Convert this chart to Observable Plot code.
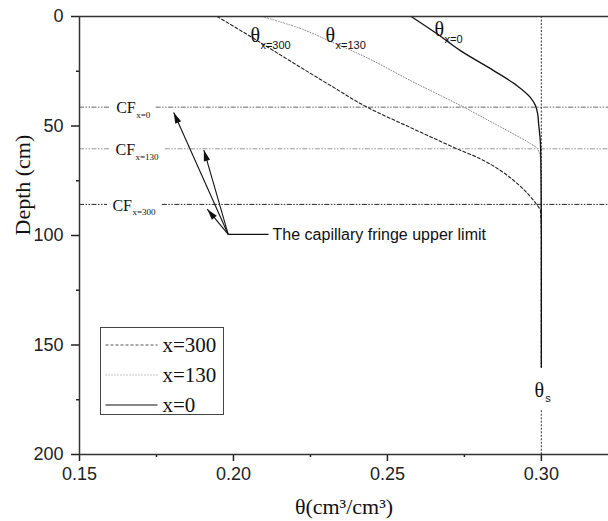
<!DOCTYPE html>
<html>
<head>
<meta charset="utf-8">
<script src="https://cdn.jsdelivr.net/npm/d3@7"></script>
<script src="https://cdn.jsdelivr.net/npm/@observablehq/plot@0.6"></script>
<style>
  html, body { margin: 0; padding: 0; background: #fff; }
  #chart { position: relative; width: 608px; height: 521px; }
</style>
</head>
<body>
<div id="chart"></div>
<script>
// ---------- data ----------
const seriesNames = ["x=300", "x=130", "x=0"];

const theta300 = [0.1947, 0.2055, 0.2191, 0.2315, 0.2434, 0.2575, 0.2726, 0.2802, 0.2867, 0.2922, 0.2964, 0.2987, 0.2997, 0.3000, 0.3000];
const depth300 = [0, 9.1, 20.9, 31.5, 41.4, 50.7, 60.4, 65.0, 70.3, 76.3, 82.2, 86.3, 88.6, 100, 160];

const theta130 = [0.2093, 0.2218, 0.2315, 0.2418, 0.2581, 0.2748, 0.2834, 0.2906, 0.2964, 0.2987, 0.2997, 0.3000, 0.3000];
const depth130 = [0, 5.5, 11.4, 17.8, 29.7, 41.4, 47.9, 53.4, 58.0, 60.3, 64.8, 100, 160];

const theta0 = [0.2577, 0.2661, 0.2737, 0.2845, 0.2921, 0.2964, 0.2981, 0.2988, 0.2991, 0.2997, 0.2999, 0.3000, 0.3000];
const depth0 = [0, 7.9, 15.6, 24.7, 31.6, 36.9, 40.7, 44.5, 49.0, 58.0, 73.5, 100, 160];

// capillary fringe upper limits
const cfNames = ["x=0", "x=130", "x=300"];
const cfDepth = [41.4, 60.4, 85.8];
const cfGapStart = [0.1601, 0.1601, 0.1591];
const cfGapEnd = [0.1749, 0.1779, 0.1769];
const cfLabelTheta = [0.1619, 0.1617, 0.1607];
const cfColors = ["#666", "#999", "#222"];

// curve labels
const curveLabelNames = ["x=300", "x=130", "x=0"];
const curveLabelTheta = [0.2055, 0.2299, 0.2653];
const curveLabelDepth = [8.7, 8.7, 6.0];

// saturated water content
const thetaS = 0.30;
const thetaSLabelDepth = 170.7;
const thetaSSeg1 = [0, 180];
const thetaSSeg2 = [161, 200];

// annotation arrows
const arrowOrigin = [0.1983, 99.5];
const arrowTipTheta = [0.1806, 0.1904, 0.1915];
const arrowTipDepth = [43.8, 61.0, 88.0];
const annotationText = "The capillary fringe upper limit";
const connectorEnd = 0.2114;
const annotationTheta = 0.2127;

// axes
const xDomain = [0.15, 0.3218];
const yDomain = [0, 200];
const xMajor = [0.15, 0.20, 0.25, 0.30];
const xMinor = [0.175, 0.225, 0.275];
const yMajor = [0, 50, 100, 150, 200];
const yMinor = [25, 75, 125, 175];

// ---------- build ----------
const W = 608, H = 521, ML = 79, MR = 0, MT = 16, MB = 67;
const sx = d3.scaleLinear(xDomain, [ML, W - MR]);
const sy = d3.scaleLinear(yDomain, [MT, H - MB]);

const rows = [];
[[theta300, depth300, "x=300"], [theta130, depth130, "x=130"], [theta0, depth0, "x=0"]].forEach(([t, d, s]) => {
  t.forEach((v, i) => rows.push({series: s, theta: v, depth: d[i]}));
});

const cf = cfNames.map((n, i) => ({name: n, depth: cfDepth[i], gs: cfGapStart[i], ge: cfGapEnd[i], lt: cfLabelTheta[i], color: cfColors[i]}));
const cfSegs = cf.flatMap(c => [
  {x1: xDomain[0], x2: c.gs, y: c.depth, color: c.color},
  {x1: c.ge, x2: xDomain[1], y: c.depth, color: c.color}
]);

const curveLabels = curveLabelNames.map((n, i) => ({name: n, theta: curveLabelTheta[i], depth: curveLabelDepth[i]}));

const arrows = arrowTipTheta.map((t, i) => {
  const dx = sx(t) - sx(arrowOrigin[0]);
  const dy = sy(arrowTipDepth[i]) - sy(arrowOrigin[1]);
  return {x1: arrowOrigin[0], y1: arrowOrigin[1], x2: t, y2: arrowTipDepth[i], angle: Math.atan2(dx, -dy) * 180 / Math.PI};
});

const headSymbol = {
  draw(ctx) { ctx.moveTo(0, 0); ctx.lineTo(-3.2, 11); ctx.lineTo(3.2, 11); ctx.closePath(); }
};

const serif = "Liberation Serif, Times New Roman, serif";
const sans = "Liberation Sans, Arial, sans-serif";
const dashDotDot = "5,1.5,1.5,1.5,1.5,1.5";

const plot = Plot.plot({
  width: W, height: H,
  marginLeft: ML, marginRight: MR, marginTop: MT, marginBottom: MB,
  style: {fontFamily: sans, fontSize: "18px", color: "#222", background: "#fff"},
  x: {domain: xDomain},
  y: {domain: yDomain, reverse: true},
  marks: [
    // capillary fringe lines
    Plot.ruleY(cfSegs, {y: "y", x1: "x1", x2: "x2", stroke: "color", strokeWidth: 1, strokeDasharray: dashDotDot}),
    // theta_s reference
    Plot.ruleX(thetaSSeg1.map((a, i) => ({x: thetaS, y1: a, y2: thetaSSeg2[i]})), {x: "x", y1: "y1", y2: "y2", stroke: "#555", strokeWidth: 1.2, strokeDasharray: "2,1.5"}),
    // curves
    Plot.line(rows.filter(d => d.series === "x=130"), {x: "theta", y: "depth", curve: "monotone-y", stroke: "#888", strokeWidth: 1, strokeDasharray: "1,1.8"}),
    Plot.line(rows.filter(d => d.series === "x=300"), {x: "theta", y: "depth", curve: "monotone-y", stroke: "#222", strokeWidth: 1.1, strokeDasharray: "3,2.2"}),
    Plot.line(rows.filter(d => d.series === "x=0"), {x: "theta", y: "depth", curve: "monotone-y", stroke: "#111", strokeWidth: 1.3}),
    // arrows
    Plot.link(arrows, {x1: "x1", y1: "y1", x2: "x2", y2: "y2", stroke: "#111", strokeWidth: 1.1}),
    Plot.dot(arrows, {x: "x2", y: "y2", symbol: headSymbol, rotate: "angle", fill: "#111", stroke: "none"}),
    Plot.link([{x1: arrowOrigin[0], x2: connectorEnd, y: arrowOrigin[1]}], {x1: "x1", x2: "x2", y1: "y", y2: "y", stroke: "#111", strokeWidth: 1.1}),
    Plot.text([annotationText], {x: annotationTheta, y: arrowOrigin[1], text: d => d, textAnchor: "start", lineAnchor: "middle", fontSize: 16, fontFamily: sans, fill: "#111"}),
    // CF labels
    Plot.text(cf, {x: "lt", y: "depth", text: () => "CF", textAnchor: "start", lineAnchor: "middle", fontSize: 16, fontFamily: serif, fill: "#111", dy: 1}),
    Plot.text(cf, {x: "lt", y: "depth", text: "name", textAnchor: "start", lineAnchor: "middle", fontSize: 9, fontFamily: serif, fill: "#111", dx: 20, dy: 8}),
    // curve labels
    Plot.text(curveLabels, {x: "theta", y: "depth", text: () => "θ", textAnchor: "start", lineAnchor: "middle", fontSize: 20, fontFamily: serif, fill: "#111"}),
    Plot.text(curveLabels, {x: "theta", y: "depth", text: "name", textAnchor: "start", lineAnchor: "middle", fontSize: 11, fontFamily: sans, fill: "#111", dx: 10, dy: 10}),
    Plot.text([thetaS], {x: thetaS, y: thetaSLabelDepth, text: () => "θ", textAnchor: "middle", lineAnchor: "middle", fontSize: 20, fontFamily: serif, fill: "#111", dx: -2}),
    Plot.text([thetaS], {x: thetaS, y: thetaSLabelDepth, text: () => "s", textAnchor: "start", lineAnchor: "middle", fontSize: 11, fontFamily: sans, fill: "#111", dx: 4, dy: 8}),
    // axes
    Plot.axisX(xMajor, {ticks: xMajor, tickSize: 7, tickPadding: 6, tickFormat: d3.format(".2f"), label: null, strokeWidth: 1.5, fontSize: 18}),
    Plot.axisX(xMinor, {ticks: xMinor, tickSize: 3, tickFormat: () => "", label: null, strokeWidth: 1.5}),
    Plot.axisY(yMajor, {ticks: yMajor, tickSize: 8, tickPadding: 8, tickFormat: d3.format("d"), label: null, strokeWidth: 1.5, fontSize: 18}),
    Plot.axisY(yMinor, {ticks: yMinor, tickSize: 3, tickFormat: () => "", label: null, strokeWidth: 1.5}),
    Plot.ruleY([yDomain[0], yDomain[1]], {stroke: "#333", strokeWidth: 1.5}),
    Plot.ruleX([xDomain[0]], {stroke: "#333", strokeWidth: 1.5}),
    // axis titles
    Plot.text(["θ(cm³/cm³)"], {frameAnchor: "bottom", text: d => d, dy: 52, lineAnchor: "middle", fontSize: 22, fontFamily: serif, fill: "#111"}),
    Plot.text(["Depth (cm)"], {frameAnchor: "left", text: d => d, dx: -57, rotate: -90, lineAnchor: "middle", fontSize: 22, fontFamily: serif, fill: "#111"})
  ]
});

document.getElementById("chart").appendChild(plot);

// ---------- legend ----------
const legendStyles = {
  "x=300": {stroke: "#555", dash: "3,2", width: 1},
  "x=130": {stroke: "#888", dash: "1,2", width: 1},
  "x=0":   {stroke: "#111", dash: null, width: 1.2}
};
const svg = d3.select(plot);
const lg = svg.append("g").attr("transform", "translate(100.5,327.5)");
lg.append("rect").attr("width", 123).attr("height", 87).attr("fill", "#fff").attr("stroke", "#444").attr("stroke-width", 1);
seriesNames.forEach((name, i) => {
  const y = 17.5 + i * 30;
  const st = legendStyles[name];
  lg.append("line").attr("x1", 5).attr("x2", 57).attr("y1", y).attr("y2", y)
    .attr("stroke", st.stroke).attr("stroke-width", st.width).attr("stroke-dasharray", st.dash);
  lg.append("text").attr("x", 62).attr("y", y).attr("dy", "0.35em")
    .attr("text-anchor", "start")
    .attr("font-family", serif).attr("font-size", 21).attr("fill", "#111").text(name);
});
</script>
</body>
</html>
